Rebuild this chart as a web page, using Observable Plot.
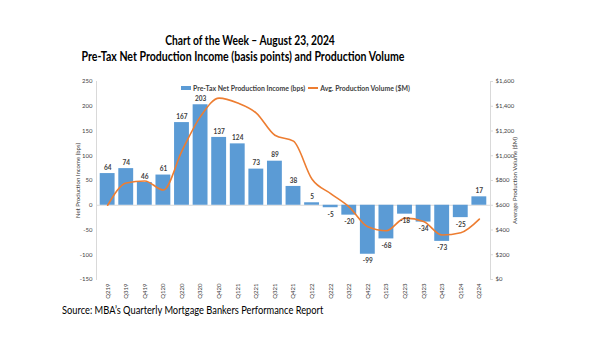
<!DOCTYPE html>
<html>
<head>
<meta charset="utf-8">
<script src="https://cdn.jsdelivr.net/npm/d3@7"></script>
<script src="https://cdn.jsdelivr.net/npm/@observablehq/plot@0.6"></script>
<style>
  html, body { margin:0; padding:0; background:#fff; }
  #wrap { position:relative; width:600px; height:358px; font-family: Lato, "Open Sans", sans-serif; color:#000; }
  #wrap svg { position:absolute; left:0; top:0; }
  .t { position:absolute; white-space:nowrap; }
  #t1 { top:33px; left:0; width:500px; text-align:center; font-weight:bold; font-size:12.5px; transform:scaleX(0.82); transform-origin:250px 50%; }
  #t2 { top:49px; left:0; width:486px; text-align:center; font-weight:bold; font-size:12.5px; transform:scaleX(0.845); transform-origin:243px 50%; }
  #src { top:304px; left:62px; font-size:10.5px; color:#000; transform:scaleX(0.885); transform-origin:0 50%; }
  #legend { top:84px; left:181px; font-size:6.9px; font-weight:bold; color:#404040; display:flex; align-items:center; }
  .sw { display:inline-block; width:10px; height:4px; background:#5B9BD5; margin-right:2px; }
  .ln { display:inline-block; width:10px; height:1.6px; background:#ED7D31; margin:0 2px 0 3px; }
</style>
</head>
<body>
<div id="wrap">
  <div class="t" id="t1">Chart of the Week – August 23, 2024</div>
  <div class="t" id="t2">Pre-Tax Net Production Income (basis points) and Production Volume</div>
  <div class="t" id="legend"><span class="sw"></span>Pre-Tax Net Production Income (bps)<span class="ln"></span>Avg. Production Volume ($M)</div>
  <div class="t" id="src">Source: MBA’s Quarterly Mortgage Bankers Performance Report</div>
</div>
<script>
const quarters = ["Q219","Q319","Q419","Q120","Q220","Q320","Q420","Q121","Q221","Q321","Q421","Q122","Q222","Q322","Q422","Q123","Q223","Q323","Q423","Q124","Q224"];
const income = [64, 74, 46, 61, 167, 203, 137, 124, 73, 89, 38, 5, -5, -20, -99, -68, -18, -34, -73, -25, 17];
const volume = [600, 780, 796, 723, 1040, 1318, 1466, 1426, 1345, 1166, 1118, 810, 694, 585, 426, 394, 496, 469, 359, 378, 488];
const incomeTicks = [-150, -100, -50, 0, 50, 100, 150, 200, 250];
const volumeTicks = [0, 200, 400, 600, 800, 1000, 1200, 1400, 1600];

const rows = quarters.map((q, i) => ({q, income: income[i], volume: volume[i]}));
// map the right-hand volume scale ($0..$1,600) onto the left-hand bps scale (-150..250)
const toY = v => v / 4 - 150;
const fromY = y => (y + 150) * 4;

const chart = Plot.plot({
  width: 600, height: 358,
  marginLeft: 96, marginRight: 110, marginTop: 81, marginBottom: 79,
  style: {fontFamily: "Lato, 'Open Sans', sans-serif", fontSize: "6px", color: "#595959", background: "transparent"},
  x: {domain: quarters, padding: 0.2, round: false, label: null},
  y: {domain: [-150, 250], label: null},
  marks: [
    Plot.frame({anchor: "left", stroke: "#d9d9d9"}),
    Plot.frame({anchor: "right", stroke: "#d9d9d9"}),
    Plot.ruleY([0], {stroke: "#d9d9d9"}),
    Plot.barY(rows, {x: "q", y: "income", fill: "#5B9BD5"}),
    Plot.lineY(rows, {x: "q", y: d => toY(d.volume), stroke: "#ED7D31", strokeWidth: 1.6, curve: "monotone-x"}),
    Plot.text(rows.filter(d => d.income >= 0), {x: "q", y: "income", text: d => String(d.income), dy: -6, fill: "#404040", fontWeight: "bold", fontSize: 6.5}),
    Plot.text(rows.filter(d => d.income < 0), {x: "q", y: "income", text: d => String(d.income), dy: 7, fill: "#404040", fontWeight: "bold", fontSize: 6.5}),
    Plot.axisY({ticks: incomeTicks, tickFormat: d => String(d), tickSize: 0, tickPadding: 4,
      label: "Net Production Income (bps)", labelAnchor: "center", labelOffset: 21, labelArrow: "none", fill: "#404040"}),
    Plot.axisY({anchor: "right", ticks: volumeTicks.map(toY), tickFormat: d => d3.format("$,")(Math.round(fromY(d))),
      tickSize: 2, stroke: "#d9d9d9", tickPadding: 3,
      label: "Average Production Volume ($M)", labelAnchor: "center", labelOffset: 26, labelArrow: "none", fill: "#404040"}),
    Plot.axisX({anchor: "bottom", tickRotate: -90, tickSize: 0, tickPadding: 4, label: null, fill: "#404040"})
  ]
});
document.getElementById("wrap").prepend(chart);
</script>
</body>
</html>
